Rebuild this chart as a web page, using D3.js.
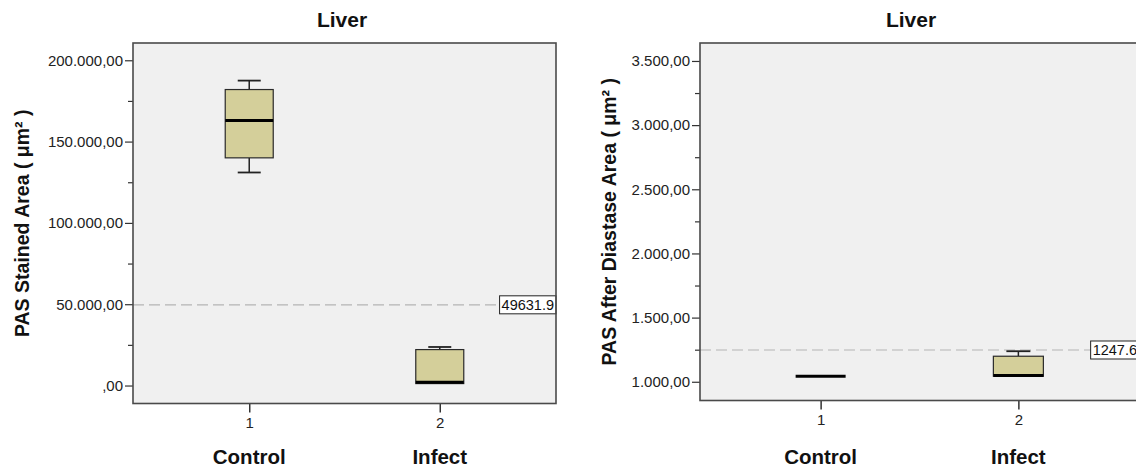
<!DOCTYPE html>
<html>
<head>
<meta charset="utf-8">
<script src="https://cdn.jsdelivr.net/npm/d3@7"></script>
<style>
  body { margin: 0; background: #fff; }
  svg { display: block; font-family: Arial, "Liberation Sans", sans-serif; }
</style>
</head>
<body>
<svg id="chart" width="1136" height="468"></svg>
<script>
// Groups and their axis codes
const categories = ["Control", "Infect"];
const categoryCodes = ["1", "2"];

// PAS stained area (µm²): five-number summary per group
const stainedMin    = [131000, 1200];
const stainedQ1     = [140000, 1200];
const stainedMedian = [163000, 2000];
const stainedQ3     = [182000, 22100];
const stainedMax    = [187500, 23700];
const stainedRef = 49631.9;
const stainedTicks = [0, 50000, 100000, 150000, 200000];
const stainedMinorTicks = [25000, 75000, 125000, 175000];

// PAS after diastase area (µm²): five-number summary per group
const diastaseMin    = [1043, 1043];
const diastaseQ1     = [1043, 1043];
const diastaseMedian = [1043, 1049];
const diastaseQ3     = [1043, 1199];
const diastaseMax    = [1043, 1238];
const diastaseRef = 1247.6;
const diastaseTicks = [1000, 1500, 2000, 2500, 3000, 3500];
const diastaseMinorTicks = [1250, 1750, 2250, 2750, 3250];

const panels = [
  {
    title: "Liver", yLabel: "PAS Stained Area ( μm² )",
    min: stainedMin, q1: stainedQ1, med: stainedMedian, q3: stainedQ3, max: stainedMax,
    ref: stainedRef, refText: "49631.9", ticks: stainedTicks, minor: stainedMinorTicks,
    domain: [-11050, 210620],
    x0: 133, x1: 556, y0: 43, y1: 403.5, boxW: 48, capW: 23, labelX: 22, titleX: 342
  },
  {
    title: "Liver", yLabel: "PAS After Diastase Area ( μm² )",
    min: diastaseMin, q1: diastaseQ1, med: diastaseMedian, q3: diastaseQ3, max: diastaseMax,
    ref: diastaseRef, refText: "1247.6", ticks: diastaseTicks, minor: diastaseMinorTicks,
    domain: [854, 3640],
    x0: 700, x1: 1139, y0: 43, y1: 400.5, boxW: 50, capW: 24, labelX: 609, titleX: 911
  }
];

const locale = d3.formatLocale({ decimal: ",", thousands: ".", grouping: [3], currency: ["", ""] });
const fmt2 = locale.format(",.2f");
const tickFmt = v => fmt2(v).replace(/^0,/, ",");

const svg = d3.select("#chart");

panels.forEach(p => {
  const g = svg.append("g");
  const y = d3.scaleLinear().domain(p.domain).range([p.y1, p.y0]);
  const x = d3.scalePoint().domain(categories).range([p.x0, p.x1]).padding(0.61);

  // plot background
  g.append("rect")
    .attr("x", p.x0).attr("y", p.y0)
    .attr("width", p.x1 - p.x0).attr("height", p.y1 - p.y0)
    .attr("fill", "#f0f0f0");

  // y axis: major and minor ticks
  const yMajor = g.append("g").attr("transform", `translate(${p.x0},0)`)
    .call(d3.axisLeft(y).tickValues(p.ticks).tickSize(8).tickPadding(2).tickFormat(tickFmt));
  const yMinor = g.append("g").attr("transform", `translate(${p.x0},0)`)
    .call(d3.axisLeft(y).tickValues(p.minor).tickSize(5).tickFormat(""));
  [yMajor, yMinor].forEach(a => {
    a.select(".domain").remove();
    a.selectAll("line").attr("stroke", "#333").attr("stroke-width", 1.2);
    a.selectAll("text").attr("font-size", 15).attr("fill", "#222")
      .attr("font-family", "Arial, 'Liberation Sans', sans-serif");
  });

  // x axis with group codes
  const xAxis = g.append("g").attr("transform", `translate(0,${p.y1})`)
    .call(d3.axisBottom(x).tickSize(9).tickPadding(5).tickFormat((d, i) => categoryCodes[i]));
  xAxis.select(".domain").remove();
  xAxis.selectAll("line").attr("stroke", "#333").attr("stroke-width", 1.5);
  xAxis.selectAll("text").attr("font-size", 15).attr("fill", "#222")
    .attr("font-family", "Arial, 'Liberation Sans', sans-serif");

  // group names
  g.selectAll(".cat").data(categories).join("text")
    .attr("x", d => x(d)).attr("y", 464)
    .attr("text-anchor", "middle")
    .attr("font-size", 20.5).attr("font-weight", "bold").attr("fill", "#111")
    .text(d => d);

  // reference line with value label
  const ry = y(p.ref);
  const lab = g.append("g");
  const lt = lab.append("text")
    .attr("font-size", 14.5).attr("fill", "#111")
    .attr("text-anchor", "end")
    .attr("x", p.x1 - 2).attr("y", ry + 5)
    .text(p.refText);
  const bb = lt.node().getBBox();
  const bx = bb.x - 2, bw = p.x1 - bx;
  g.insert("line", () => lab.node())
    .attr("x1", p.x0).attr("x2", bx)
    .attr("y1", ry).attr("y2", ry)
    .attr("stroke", "#b4b4b4").attr("stroke-width", 1.2)
    .attr("stroke-dasharray", "11,5");
  lab.insert("rect", "text")
    .attr("x", bx).attr("y", ry - 9).attr("width", bw).attr("height", 18)
    .attr("fill", "#fff").attr("stroke", "#222").attr("stroke-width", 1);

  // box plots
  categories.forEach((c, i) => {
    const cx = x(c);
    const bg = g.append("g");
    const wl = "#222";
    bg.append("line").attr("x1", cx).attr("x2", cx)
      .attr("y1", y(p.max[i])).attr("y2", y(p.q3[i]))
      .attr("stroke", wl).attr("stroke-width", 1.5);
    bg.append("line").attr("x1", cx).attr("x2", cx)
      .attr("y1", y(p.q1[i])).attr("y2", y(p.min[i]))
      .attr("stroke", wl).attr("stroke-width", 1.5);
    if (p.max[i] !== p.q3[i]) {
      bg.append("line").attr("x1", cx - p.capW / 2).attr("x2", cx + p.capW / 2)
        .attr("y1", y(p.max[i])).attr("y2", y(p.max[i]))
        .attr("stroke", wl).attr("stroke-width", 1.8);
    }
    if (p.min[i] !== p.q1[i]) {
      bg.append("line").attr("x1", cx - p.capW / 2).attr("x2", cx + p.capW / 2)
        .attr("y1", y(p.min[i])).attr("y2", y(p.min[i]))
        .attr("stroke", wl).attr("stroke-width", 1.8);
    }
    bg.append("rect")
      .attr("x", cx - p.boxW / 2).attr("y", y(p.q3[i]))
      .attr("width", p.boxW).attr("height", y(p.q1[i]) - y(p.q3[i]))
      .attr("fill", "#d4cf9a").attr("stroke", "#2a2a2a").attr("stroke-width", 1.2);
    bg.append("line")
      .attr("x1", cx - p.boxW / 2).attr("x2", cx + p.boxW / 2)
      .attr("y1", y(p.med[i])).attr("y2", y(p.med[i]))
      .attr("stroke", "#000").attr("stroke-width", 3);
  });

  // plot frame
  g.append("rect")
    .attr("x", p.x0).attr("y", p.y0)
    .attr("width", p.x1 - p.x0).attr("height", p.y1 - p.y0)
    .attr("fill", "none").attr("stroke", "#4a4a4a").attr("stroke-width", 1.6);

  // title
  g.append("text")
    .attr("x", p.titleX).attr("y", 27)
    .attr("text-anchor", "middle")
    .attr("font-size", 21).attr("font-weight", "bold").attr("fill", "#111")
    .text(p.title);

  // y axis title
  g.append("text")
    .attr("transform", `translate(${p.labelX + 7},${(p.y0 + p.y1) / 2}) rotate(-90)`)
    .attr("text-anchor", "middle")
    .attr("font-size", 19.5).attr("font-weight", "bold").attr("fill", "#111")
    .text(p.yLabel);
});
</script>
</body>
</html>
